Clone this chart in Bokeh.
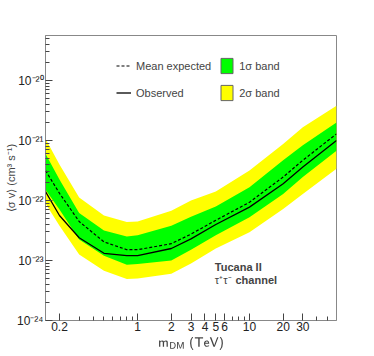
import numpy as np
from bokeh.plotting import figure
from bokeh.models import (FixedTicker, Legend, LegendItem, Label, Range1d)
from bokeh.embed import file_html
from bokeh.resources import INLINE

# ---- data (log10 of <sigma v> in cm^3 s^-1) ----
mass_tev = [0.15, 0.2, 0.3, 0.5, 0.8, 1, 2, 3, 5, 10, 20, 30, 60]
band2_hi_log = [-20.97, -21.40, -21.95, -22.25, -22.36, -22.35, -22.17, -22.00, -21.85, -21.50, -21.06, -20.78, -20.42]
band1_hi_log = [-21.22, -21.65, -22.21, -22.50, -22.60, -22.58, -22.42, -22.27, -22.10, -21.78, -21.33, -21.08, -20.70]
expected_log = [-21.50, -21.88, -22.35, -22.69, -22.82, -22.82, -22.72, -22.56, -22.33, -22.03, -21.61, -21.33, -20.89]
band1_lo_log = [-21.82, -22.15, -22.65, -22.92, -23.07, -23.06, -23.00, -22.82, -22.58, -22.28, -21.89, -21.61, -21.17]
band2_lo_log = [-22.05, -22.42, -22.90, -23.17, -23.31, -23.30, -23.22, -23.05, -22.80, -22.53, -22.14, -21.89, -21.47]
observed_log = [-21.85, -22.25, -22.62, -22.88, -22.92, -22.92, -22.80, -22.64, -22.40, -22.11, -21.72, -21.44, -21.00]

x_ticks = [0.2, 1, 2, 3, 4, 5, 6, 10, 20, 30]
x_tick_labels = ["0.2", "1", "2", "3", "4", "5", "6", "10", "20", "30"]
x_minor = [0.3, 0.4, 0.5, 0.6, 0.7, 0.8, 0.9, 7, 8, 9, 40, 50]
y_ticks = [1e-24, 1e-23, 1e-22, 1e-21, 1e-20]
y_tick_labels = ["10⁻²⁴", "10⁻²³", "10⁻²²", "10⁻²¹", "10⁻²⁰"]

def tolin(a):
    return [10.0 ** v for v in a]

FONT = "Liberation Sans"
NAN = float("nan")

p = figure(width=374, height=356, x_axis_type="log", y_axis_type="log",
           x_range=Range1d(0.15, 60), y_range=Range1d(1e-24, 10 ** -19.25),
           output_backend="svg", toolbar_location=None,
           min_border_left=45, min_border_right=38, min_border_top=35, min_border_bottom=36)
p.grid.visible = False
p.outline_line_color = "#888888"
p.background_fill_color = "white"
p.border_fill_color = "white"

p.varea(x=mass_tev, y1=tolin(band2_lo_log), y2=tolin(band2_hi_log), fill_color="#ffff00")
p.varea(x=mass_tev, y1=tolin(band1_lo_log), y2=tolin(band1_hi_log), fill_color="#00ff00")
r_exp = p.line(mass_tev, tolin(expected_log), line_color="black", line_width=1.2, line_dash="3 2")
r_obs = p.line(mass_tev, tolin(observed_log), line_color="black", line_width=1.3)

# legend swatches (no visible data)
r_g = p.rect(x=[NAN], y=[NAN], width=1, height=1, fill_color="#00ff00", line_color="#666666")
r_y = p.rect(x=[NAN], y=[NAN], width=1, height=1, fill_color="#ffff00", line_color="#666666")

legend = Legend(items=[LegendItem(label="Mean expected", renderers=[r_exp]),
                       LegendItem(label="Observed", renderers=[r_obs]),
                       LegendItem(label="1σ band", renderers=[r_g]),
                       LegendItem(label="2σ band", renderers=[r_y])],
                ncols=2, orientation="vertical")
legend.location = (71, 218)
legend.background_fill_alpha = 0
legend.border_line_alpha = 0
legend.label_text_font = FONT
legend.label_text_font_size = "11px"
legend.glyph_width = 15
legend.glyph_height = 19
legend.spacing = 8
legend.padding = 0
legend.margin = 0
legend.label_standoff = 5
p.add_layout(legend)

# axes
xa = p.xaxis[0]
xa.ticker = FixedTicker(ticks=x_ticks, minor_ticks=x_minor)
xa.major_label_overrides = {v: l for v, l in zip(x_ticks, x_tick_labels)}
xa.axis_label = "$$\\mathsf{m_{DM}\\;(TeV)}$$"
ya = p.yaxis[0]
ya.ticker = FixedTicker(ticks=y_ticks,
                        minor_ticks=[m * 10.0 ** e for e in range(-24, -19) for m in range(2, 10)])
ya.major_label_overrides = {v: l for v, l in zip(y_ticks, y_tick_labels)}
ya.axis_label = "⟨σ v⟩ (cm³ s⁻¹)"

for ax in (xa, ya):
    ax.axis_line_color = "#888888"
    ax.major_tick_line_color = "#444444"
    ax.minor_tick_line_color = "#444444"
    ax.major_tick_in = 7
    ax.major_tick_out = 0
    ax.minor_tick_in = 4
    ax.minor_tick_out = 0
    ax.major_label_text_font = FONT
    ax.major_label_text_font_size = "12px"
    ax.major_label_text_color = "#222222"
    ax.axis_label_text_font = FONT
    ax.axis_label_text_font_size = "11px"
    ax.axis_label_text_font_style = "normal"
xa.axis_label_text_font_size = "10px"
xa.major_label_standoff = 1
xa.axis_label_standoff = 3
ya.major_label_standoff = 2
ya.axis_label_standoff = -3

p.add_layout(Label(x=4.9, y=10 ** -23.1, text="Tucana II", text_font=FONT,
                   text_font_size="11px", text_font_style="bold", text_baseline="middle"))
p.add_layout(Label(x=4.9, y=10 ** -23.33, text="τ⁺τ⁻", text_font=FONT,
                   text_font_size="11px", text_baseline="middle"))
p.add_layout(Label(x=7.5, y=10 ** -23.33, text="channel", text_font=FONT,
                   text_font_size="11px", text_font_style="bold", text_baseline="middle"))

open("out.html", "w").write(file_html(p, INLINE))
